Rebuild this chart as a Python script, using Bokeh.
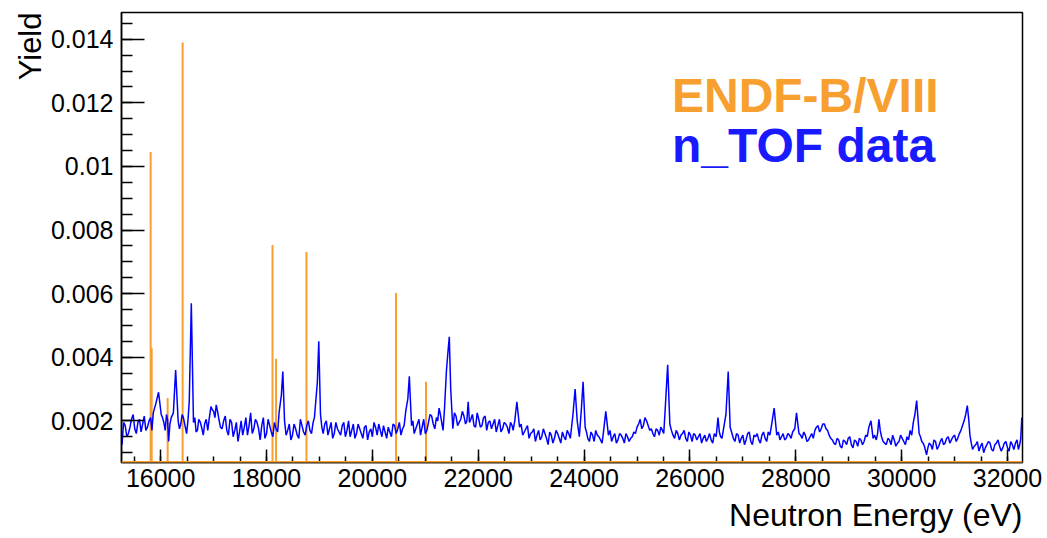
from bokeh.plotting import figure
from bokeh.models import (Range1d, SingleIntervalTicker, CustomJSTickFormatter,
                          Label, Title, Span, ColumnDataSource)
from bokeh.embed import file_html
from bokeh.resources import INLINE

# ---------------- data ----------------
# n_TOF measured yield, read off the picture (main samples)
ntof_energy = [
    15270, 15330, 15390, 15450, 15510, 15570, 15630, 15690, 15750, 15810,
    15860, 15910, 15960, 16010, 16060, 16110, 16150, 16200, 16240, 16283,
    16330, 16380, 16430, 16490, 16540, 16579, 16620, 16670, 16720, 16780,
    16830, 16890, 16950, 17000, 17050, 17100, 17160, 17220, 17280, 17340,
    17400, 17460, 17520, 17580, 17640, 17700, 17760, 17820, 17880, 17940,
    18000, 18060, 18120, 18180, 18240, 18280, 18308, 18340, 18400, 18460,
    18520, 18580, 18640, 18700, 18760, 18820, 18880, 18930, 18960, 18987,
    19020, 19070, 19130, 19190, 19250, 19310, 19370, 19430, 19490, 19550,
    19610, 19670, 19730, 19790, 19850, 19910, 19970, 20030, 20090, 20150,
    20210, 20270, 20330, 20390, 20450, 20510, 20570, 20630, 20670, 20698,
    20740, 20790, 20850, 20910, 20970, 21030, 21090, 21150, 21210, 21260,
    21310, 21360, 21400, 21430, 21453, 21480, 21520, 21580, 21640, 21700,
    21760, 21810, 21860, 21920, 21980, 22040, 22100, 22160, 22220, 22280,
    22340, 22400, 22460, 22520, 22580, 22640, 22690, 22730, 22780, 22840,
    22900, 22960, 23020, 23080, 23140, 23200, 23260, 23320, 23380, 23440,
    23500, 23560, 23620, 23680, 23740, 23790, 23830, 23870, 23910, 23950,
    23981, 24020, 24070, 24130, 24190, 24250, 24310, 24370, 24410, 24460,
    24520, 24580, 24640, 24700, 24760, 24820, 24880, 24940, 25000, 25060,
    25120, 25180, 25240, 25300, 25360, 25420, 25480, 25530, 25579, 25620,
    25680, 25740, 25800, 25860, 25920, 25980, 26040, 26100, 26160, 26220,
    26280, 26340, 26400, 26460, 26530, 26580, 26630, 26680, 26723, 26760,
    26820, 26880, 26940, 27000, 27060, 27120, 27180, 27240, 27300, 27360,
    27420, 27480, 27540, 27591, 27640, 27700, 27760, 27820, 27880, 27940,
    27980, 28013, 28060, 28120, 28180, 28240, 28300, 28360, 28420, 28480,
    28540, 28600, 28660, 28720, 28780, 28840, 28900, 28960, 29020, 29080,
    29140, 29200, 29260, 29320, 29380, 29420, 29460, 29520, 29570, 29620,
    29680, 29740, 29800, 29860, 29920, 29980, 30040, 30100, 30160, 30220,
    30283, 30330, 30380, 30430, 30470, 30520, 30580, 30640, 30700, 30760,
    30820, 30880, 30940, 31000, 31060, 31120, 31180, 31240, 31290, 31340,
    31400, 31460, 31520, 31580, 31640, 31700, 31760, 31820, 31880, 31940,
    32000, 32060, 32120, 32180, 32230, 32270,
]
ntof_yield = [
    0.00125, 0.00185, 0.00160, 0.00205, 0.00175, 0.00195, 0.00165, 0.00215, 0.00180, 0.00210,
    0.00225, 0.00255, 0.00290, 0.00220, 0.00195, 0.00220, 0.00135, 0.00210, 0.00225, 0.00360,
    0.00200, 0.00190, 0.00210, 0.00160, 0.00260, 0.00570, 0.00195, 0.00165, 0.00205, 0.00175,
    0.00190, 0.00170, 0.00245, 0.00230, 0.00250, 0.00205, 0.00175, 0.00215, 0.00155, 0.00195,
    0.00170, 0.00135, 0.00200, 0.00180, 0.00155, 0.00225, 0.00175, 0.00195, 0.00140, 0.00210,
    0.00160, 0.00185, 0.00150, 0.00175, 0.00230, 0.00280, 0.00355, 0.00200, 0.00170, 0.00140,
    0.00190, 0.00155, 0.00205, 0.00165, 0.00185, 0.00170, 0.00195, 0.00260, 0.00320, 0.00450,
    0.00220, 0.00160, 0.00200, 0.00175, 0.00145, 0.00195, 0.00165, 0.00185, 0.00150, 0.00200,
    0.00170, 0.00145, 0.00190, 0.00160, 0.00180, 0.00140, 0.00175, 0.00195, 0.00155, 0.00170,
    0.00185, 0.00145, 0.00165, 0.00190, 0.00160, 0.00195, 0.00175, 0.00230, 0.00270, 0.00340,
    0.00185, 0.00160, 0.00190, 0.00155, 0.00205, 0.00170, 0.00220, 0.00190, 0.00210, 0.00240,
    0.00195, 0.00230, 0.00360, 0.00420, 0.00464, 0.00300, 0.00175, 0.00215, 0.00195, 0.00230,
    0.00190, 0.00260, 0.00205, 0.00185, 0.00225, 0.00180, 0.00210, 0.00170, 0.00200, 0.00190,
    0.00165, 0.00205, 0.00175, 0.00190, 0.00160, 0.00185, 0.00200, 0.00260, 0.00180, 0.00155,
    0.00175, 0.00145, 0.00165, 0.00135, 0.00170, 0.00150, 0.00160, 0.00125, 0.00155, 0.00145,
    0.00160, 0.00130, 0.00150, 0.00170, 0.00145, 0.00220, 0.00300, 0.00200, 0.00150, 0.00240,
    0.00323, 0.00180, 0.00145, 0.00165, 0.00135, 0.00155, 0.00140, 0.00170, 0.00230, 0.00155,
    0.00135, 0.00160, 0.00140, 0.00155, 0.00130, 0.00150, 0.00145, 0.00165, 0.00180, 0.00205,
    0.00185, 0.00200, 0.00170, 0.00160, 0.00175, 0.00155, 0.00170, 0.00230, 0.00376, 0.00190,
    0.00155, 0.00170, 0.00140, 0.00160, 0.00145, 0.00165, 0.00135, 0.00155, 0.00150, 0.00130,
    0.00155, 0.00145, 0.00140, 0.00160, 0.00210, 0.00150, 0.00170, 0.00220, 0.00355, 0.00180,
    0.00145, 0.00160, 0.00130, 0.00155, 0.00140, 0.00165, 0.00125, 0.00150, 0.00140, 0.00155,
    0.00145, 0.00165, 0.00185, 0.00240, 0.00155, 0.00140, 0.00160, 0.00145, 0.00155, 0.00165,
    0.00175, 0.00225, 0.00160, 0.00145, 0.00155, 0.00140, 0.00160, 0.00170, 0.00185, 0.00175,
    0.00190, 0.00170, 0.00145, 0.00130, 0.00145, 0.00120, 0.00140, 0.00125, 0.00150, 0.00115,
    0.00135, 0.00145, 0.00125, 0.00155, 0.00180, 0.00200, 0.00145, 0.00140, 0.00205, 0.00150,
    0.00130, 0.00145, 0.00125, 0.00140, 0.00130, 0.00155, 0.00135, 0.00150, 0.00170, 0.00195,
    0.00264, 0.00160, 0.00135, 0.00120, 0.00093, 0.00130, 0.00110, 0.00135, 0.00120, 0.00145,
    0.00130, 0.00150, 0.00140, 0.00155, 0.00145, 0.00170, 0.00200, 0.00248, 0.00155, 0.00110,
    0.00125, 0.00105, 0.00130, 0.00115, 0.00135, 0.00110, 0.00125, 0.00140, 0.00105, 0.00130,
    0.00115, 0.00135, 0.00110, 0.00140, 0.00125, 0.00210,
]

# n_TOF extra samples between the ones above (noise band)
ntof_energy_fill = [
    15300, 15360, 15420, 15480, 15540, 15600, 15660, 15720, 15780, 15835,
    16035, 16085, 16130, 16175, 16355, 16405, 16460, 16515, 16645, 16695,
    16750, 16805, 16860, 16920, 16975, 17025, 17075, 17130, 17190, 17250,
    17310, 17370, 17430, 17490, 17550, 17610, 17670, 17730, 17790, 17850,
    17910, 17970, 18030, 18090, 18150, 18210, 18370, 18430, 18490, 18550,
    18610, 18670, 18730, 18790, 18850, 18905, 19045, 19100, 19160, 19220,
    19280, 19340, 19400, 19460, 19520, 19580, 19640, 19700, 19760, 19820,
    19880, 19940, 20000, 20060, 20120, 20180, 20240, 20300, 20360, 20420,
    20480, 20540, 20600, 20765, 20820, 20880, 20940, 21000, 21060, 21120,
    21180, 21235, 21285, 21335, 21550, 21610, 21670, 21730, 21785, 21835,
    21890, 21950, 22010, 22070, 22130, 22190, 22250, 22310, 22370, 22430,
    22490, 22550, 22610, 22660, 22810, 22870, 22930, 22990, 23050, 23110,
    23170, 23230, 23290, 23350, 23410, 23470, 23530, 23590, 23650, 23710,
    24045, 24100, 24160, 24220, 24280, 24340, 24490, 24550, 24610, 24670,
    24730, 24790, 24850, 24910, 24970, 25030, 25090, 25150, 25210, 25270,
    25330, 25390, 25450, 25505, 25650, 25710, 25770, 25830, 25890, 25950,
    26010, 26070, 26130, 26190, 26250, 26310, 26370, 26430, 26495, 26555,
    26605, 26850, 26910, 26970, 27030, 27090, 27150, 27210, 27270, 27330,
    27390, 27450, 27510, 27670, 27730, 27790, 27850, 27910, 28090, 28150,
    28210, 28270, 28330, 28390, 28450, 28510, 28570, 28630, 28690, 28750,
    28810, 28870, 28930, 28990, 29050, 29110, 29170, 29230, 29290, 29350,
    29490, 29545, 29595, 29650, 29710, 29770, 29830, 29890, 29950, 30010,
    30070, 30130, 30190, 30250, 30355, 30405, 30495, 30550, 30610, 30670,
    30730, 30790, 30850, 30910, 30970, 31030, 31090, 31150, 31210, 31270,
    31315, 31370, 31430, 31490, 31550, 31610, 31670, 31730, 31790, 31850,
    31910, 31970, 32030, 32090, 32150, 32205, 32250,
]
ntof_yield_fill = [
    0.00195, 0.00150, 0.00180, 0.00220, 0.00160, 0.00205, 0.00190, 0.00170, 0.00200, 0.00170,
    0.00210, 0.00170, 0.00205, 0.00190, 0.00175, 0.00220, 0.00185, 0.00200, 0.00210, 0.00170,
    0.00195, 0.00155, 0.00205, 0.00210, 0.00235, 0.00210, 0.00230, 0.00180, 0.00200, 0.00170,
    0.00205, 0.00150, 0.00195, 0.00165, 0.00155, 0.00210, 0.00185, 0.00160, 0.00205, 0.00175,
    0.00185, 0.00145, 0.00205, 0.00165, 0.00195, 0.00165, 0.00155, 0.00190, 0.00155, 0.00175,
    0.00145, 0.00185, 0.00155, 0.00200, 0.00160, 0.00210, 0.00180, 0.00190, 0.00155, 0.00195,
    0.00160, 0.00175, 0.00155, 0.00195, 0.00170, 0.00150, 0.00190, 0.00160, 0.00175, 0.00145,
    0.00185, 0.00165, 0.00150, 0.00180, 0.00190, 0.00150, 0.00165, 0.00180, 0.00150, 0.00185,
    0.00175, 0.00155, 0.00185, 0.00200, 0.00175, 0.00205, 0.00180, 0.00160, 0.00195, 0.00215,
    0.00175, 0.00200, 0.00220, 0.00170, 0.00225, 0.00185, 0.00205, 0.00215, 0.00200, 0.00195,
    0.00220, 0.00180, 0.00205, 0.00185, 0.00215, 0.00195, 0.00175, 0.00205, 0.00185, 0.00165,
    0.00195, 0.00180, 0.00195, 0.00170, 0.00190, 0.00165, 0.00185, 0.00160, 0.00175, 0.00155,
    0.00140, 0.00175, 0.00145, 0.00165, 0.00130, 0.00170, 0.00145, 0.00165, 0.00140, 0.00160,
    0.00165, 0.00135, 0.00155, 0.00170, 0.00150, 0.00130, 0.00170, 0.00150, 0.00130, 0.00160,
    0.00145, 0.00160, 0.00135, 0.00150, 0.00160, 0.00190, 0.00175, 0.00210, 0.00185, 0.00175,
    0.00150, 0.00170, 0.00180, 0.00160, 0.00170, 0.00145, 0.00160, 0.00155, 0.00170, 0.00135,
    0.00155, 0.00160, 0.00140, 0.00160, 0.00145, 0.00135, 0.00160, 0.00130, 0.00150, 0.00165,
    0.00145, 0.00135, 0.00155, 0.00145, 0.00125, 0.00160, 0.00135, 0.00155, 0.00160, 0.00130,
    0.00165, 0.00135, 0.00155, 0.00165, 0.00150, 0.00140, 0.00160, 0.00145, 0.00155, 0.00165,
    0.00135, 0.00150, 0.00145, 0.00180, 0.00165, 0.00190, 0.00175, 0.00155, 0.00140, 0.00125,
    0.00140, 0.00115, 0.00135, 0.00145, 0.00125, 0.00140, 0.00120, 0.00140, 0.00135, 0.00150,
    0.00155, 0.00160, 0.00170, 0.00135, 0.00125, 0.00140, 0.00155, 0.00120, 0.00135, 0.00145,
    0.00125, 0.00140, 0.00155, 0.00220, 0.00150, 0.00130, 0.00115, 0.00125, 0.00140, 0.00110,
    0.00135, 0.00125, 0.00145, 0.00130, 0.00150, 0.00135, 0.00160, 0.00185, 0.00220, 0.00200,
    0.00130, 0.00120, 0.00135, 0.00120, 0.00100, 0.00125, 0.00130, 0.00105, 0.00130, 0.00120,
    0.00115, 0.00135, 0.00105, 0.00125, 0.00130, 0.00110, 0.00145,
]

# ENDF-B/VIII resonance yields
endf_energy = [15811, 15830, 16132, 16415, 18113, 18180, 18755, 20447, 21013]
endf_yield = [0.01045, 0.0043, 0.00272, 0.0139, 0.00753, 0.00395, 0.00731, 0.00602, 0.00323]

x_ticks_interval = 2000
y_ticks_interval = 0.002

X_MIN, X_MAX = 15260, 32283
Y_MIN, Y_MAX = 0.00069, 0.01484

ORANGE = "#f7a030"
BLUE = "#0000ff"
FONT = "Liberation Sans"

pairs = list(zip(ntof_energy, ntof_yield)) + list(zip(ntof_energy_fill, ntof_yield_fill))
pairs.sort(key=lambda t: t[0])
ntof_src = ColumnDataSource(dict(e=[a for a, _ in pairs], y=[b for _, b in pairs]))
endf_src = ColumnDataSource(dict(e=endf_energy, y=endf_yield,
                                 base=[Y_MIN] * len(endf_energy)))

p = figure(width=1047, height=538, output_backend="svg", toolbar_location=None,
           x_range=Range1d(X_MIN, X_MAX), y_range=Range1d(Y_MIN, Y_MAX),
           min_border_left=121, min_border_right=25, min_border_top=12,
           min_border_bottom=75, background_fill_color="white",
           border_fill_color="white")

p.xgrid.visible = False
p.ygrid.visible = False
p.outline_line_color = "black"
p.outline_line_width = 1.5
p.outline_line_alpha = 1.0

# ENDF
p.segment(x0="e", y0="base", x1="e", y1="y", source=endf_src,
          line_color=ORANGE, line_width=2)
p.add_layout(Span(location=Y_MIN, dimension="width", line_color=ORANGE,
                  line_width=3))
# n_TOF
p.line(x="e", y="y", source=ntof_src, line_color=BLUE, line_width=1.5)

fmt = CustomJSTickFormatter(code="return String(parseFloat(tick.toFixed(6)));")

xa = p.xaxis[0]
xa.ticker = SingleIntervalTicker(interval=x_ticks_interval, num_minor_ticks=4)
xa.formatter = fmt
xa.major_tick_in = 13
xa.major_tick_out = 0
xa.minor_tick_in = 6
xa.minor_tick_out = 0
xa.major_label_standoff = 6
ya = p.yaxis[0]
ya.ticker = SingleIntervalTicker(interval=y_ticks_interval, num_minor_ticks=4)
ya.formatter = fmt
ya.major_tick_in = 23
ya.major_tick_out = 0
ya.minor_tick_in = 11
ya.minor_tick_out = 0
ya.major_label_standoff = 8

for ax in (xa, ya):
    ax.axis_line_color = "black"
    ax.axis_line_width = 1.5
    ax.major_tick_line_color = "black"
    ax.major_tick_line_width = 1.5
    ax.minor_tick_line_color = "black"
    ax.minor_tick_line_width = 1.5
    ax.major_label_text_font = FONT
    ax.major_label_text_font_size = "25px"
    ax.major_label_text_color = "black"

p.add_layout(Title(text="Neutron Energy (eV)", align="right", text_font=FONT,
                   text_font_size="32px", text_font_style="normal",
                   text_color="black", standoff=11, offset=0), "below")
p.add_layout(Title(text="Yield", align="right", text_font=FONT,
                   text_font_size="31px", text_font_style="normal",
                   text_color="black", standoff=0, offset=0), "left")

p.add_layout(Label(x=25660, y=0.01224, text="ENDF-B/VIII", text_font=FONT,
                   text_font_size="48px", text_font_style="bold",
                   text_color=ORANGE, text_baseline="alphabetic"))
p.add_layout(Label(x=25660, y=0.01067, text="n_TOF data", text_font=FONT,
                   text_font_size="48px", text_font_style="bold",
                   text_color="#1a1aff", text_baseline="alphabetic"))

open("out.html", "w").write(file_html(p, INLINE))
